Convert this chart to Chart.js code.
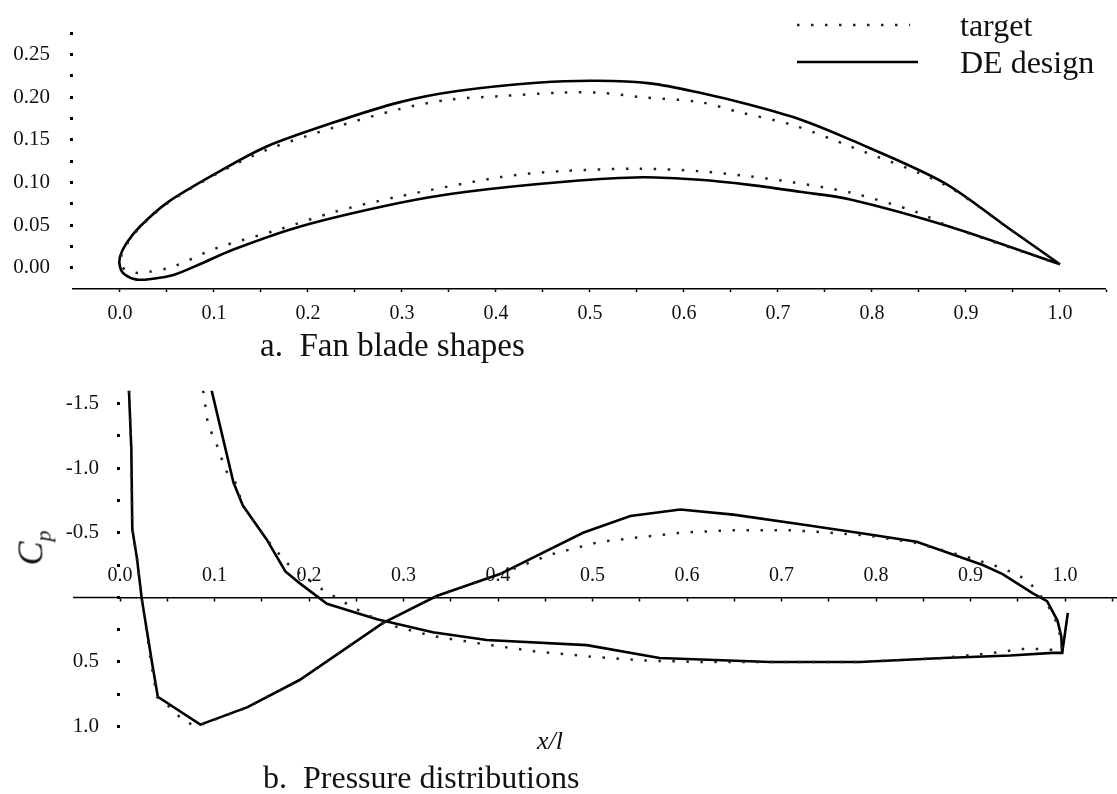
<!DOCTYPE html>
<html>
<head>
<meta charset="utf-8">
<title>Fan blade shapes and pressure distributions</title>
<script src="https://cdn.jsdelivr.net/npm/chart.js@4.4.1/dist/chart.umd.min.js"></script>
<style>
  body { margin: 0; background: #fff; width: 1117px; height: 794px; position: relative; overflow: hidden;
         font-family: 'Liberation Serif', 'DejaVu Serif', serif; color: #111; }
  canvas { position: absolute; left: 0; }
  #shapeChart { top: 0; }
  #cpChart { top: 360px; }
  .txt { position: absolute; white-space: pre; font-size: 32px; line-height: 40px; }
  #cpTitle { position: absolute; left: 37px; top: 548px; font-size: 36px; font-style: italic; line-height: 40px;
             transform: translate(-50%, -50%) rotate(-90deg); white-space: pre; }
  #cpTitle sub { font-size: 22px; }
  #xlTitle { position: absolute; left: 537px; top: 726px; font-size: 26px; font-style: italic; line-height: 30px; }
  #legendLines { position: absolute; left: 0; top: 0; }
</style>
</head>
<body>
<canvas id="shapeChart" width="1117" height="330"></canvas>
<canvas id="cpChart" width="1117" height="434"></canvas>

<svg id="legendLines" width="1117" height="80">
  <line x1="797" y1="25" x2="910" y2="25" stroke="#222" stroke-width="2.5" stroke-dasharray="2.5 11.5"/>
  <line x1="797" y1="62" x2="918" y2="62" stroke="#000" stroke-width="2.6"/>
</svg>
<div class="txt" style="left:960px; top:5px;">target</div>
<div class="txt" style="left:960px; top:42px;">DE design</div>
<div class="txt" style="left:260px; top:325px; font-size:33px;">a.  Fan blade shapes</div>
<div class="txt" style="left:263px; top:757px;">b.  Pressure distributions</div>
<div id="cpTitle">C<sub>p</sub></div>
<div id="xlTitle">x/l</div>

<script>
// ---- tick values / labels ----
const xTickVals = [0, 0.05, 0.1, 0.15, 0.2, 0.25, 0.3, 0.35, 0.4, 0.45, 0.5, 0.55, 0.6, 0.65, 0.7, 0.75, 0.8, 0.85, 0.9, 0.95, 1.0, 1.05];
const xTickLabels = ['0.0', '0.1', '0.2', '0.3', '0.4', '0.5', '0.6', '0.7', '0.8', '0.9', '1.0'];
const shapeTickVals = [0, 0.025, 0.05, 0.075, 0.1, 0.125, 0.15, 0.175, 0.2, 0.225, 0.25, 0.275];
const shapeTickLabels = ['0.00', '0.05', '0.10', '0.15', '0.20', '0.25'];
const cpTickVals = [-1.5, -1.25, -1.0, -0.75, -0.5, -0.25, 0, 0.25, 0.5, 0.75, 1.0];
const cpLabelVals = [-1.5, -1.0, -0.5, 0.5, 1.0];
const cpLabelText = ['-1.5', '-1.0', '-0.5', '0.5', '1.0'];

// ---- a. blade shapes (trailing edge -> upper surface -> leading edge -> lower surface) ----
const shapeDE_x = [1.000, 0.947, 0.876, 0.777, 0.723, 0.670, 0.617, 0.564, 0.507, 0.447, 0.359, 0.298, 0.227, 0.156, 0.103, 0.050, 0.021, 0.007, 0.000, 0.000, 0.005, 0.018, 0.035, 0.056, 0.085, 0.120, 0.191, 0.298, 0.369, 0.476, 0.556, 0.617, 0.670, 0.723, 0.777, 0.883, 1.000];
const shapeDE_y = [0.004, 0.045, 0.100, 0.150, 0.174, 0.191, 0.205, 0.216, 0.219, 0.217, 0.207, 0.194, 0.170, 0.142, 0.111, 0.076, 0.048, 0.029, 0.013, 0.001, -0.008, -0.014, -0.013, -0.009, 0.004, 0.021, 0.048, 0.076, 0.089, 0.101, 0.106, 0.103, 0.097, 0.089, 0.080, 0.048, 0.004];
const shapeTarget_x = [1.000, 0.947, 0.876, 0.777, 0.716, 0.660, 0.617, 0.553, 0.511, 0.468, 0.404, 0.351, 0.298, 0.227, 0.156, 0.103, 0.050, 0.021, 0.007, 0.001, 0.003, 0.016, 0.030, 0.056, 0.103, 0.170, 0.227, 0.295, 0.404, 0.468, 0.553, 0.617, 0.670, 0.716, 0.777, 0.848, 0.883, 1.000];
const shapeTarget_y = [0.004, 0.045, 0.098, 0.142, 0.167, 0.182, 0.194, 0.200, 0.205, 0.205, 0.201, 0.197, 0.186, 0.164, 0.138, 0.110, 0.075, 0.047, 0.027, 0.012, 0.000, -0.006, -0.005, 0.001, 0.023, 0.045, 0.065, 0.083, 0.106, 0.113, 0.116, 0.113, 0.107, 0.100, 0.088, 0.065, 0.048, 0.004];

// ---- b. pressure distributions (two branches each) ----
const cpDE1_x = [0.0095, 0.012, 0.013, 0.018, 0.023, 0.034, 0.040, 0.085, 0.135, 0.190, 0.278, 0.335, 0.402, 0.490, 0.540, 0.593, 0.649, 0.720, 0.790, 0.843, 0.913, 0.934, 0.966, 0.981, 0.992, 0.996, 0.997];
const cpDE1_y = [-1.60, -1.14, -0.53, -0.30, 0.01, 0.51, 0.77, 0.985, 0.85, 0.64, 0.20, -0.01, -0.18, -0.50, -0.63, -0.68, -0.64, -0.565, -0.49, -0.43, -0.25, -0.18, -0.03, 0.03, 0.18, 0.30, 0.43];
const cpDE2_x = [0.097, 0.120, 0.130, 0.155, 0.175, 0.190, 0.219, 0.272, 0.331, 0.388, 0.494, 0.571, 0.688, 0.783, 0.871, 0.942, 0.987, 0.997, 1.003];
const cpDE2_y = [-1.60, -0.89, -0.71, -0.45, -0.20, -0.11, 0.05, 0.17, 0.27, 0.33, 0.37, 0.47, 0.50, 0.50, 0.47, 0.45, 0.43, 0.43, 0.12];
const cpTarget1_x = [0.0095, 0.012, 0.013, 0.018, 0.023, 0.033, 0.039, 0.056, 0.066, 0.081, 0.135, 0.190, 0.278, 0.335, 0.402, 0.455, 0.508, 0.593, 0.649, 0.709, 0.751, 0.790, 0.843, 0.897, 0.924, 0.949, 0.963, 0.981, 0.993, 0.997];
const cpTarget1_y = [-1.60, -1.14, -0.53, -0.30, 0.01, 0.51, 0.77, 0.87, 0.95, 1.00, 0.85, 0.64, 0.20, -0.01, -0.18, -0.33, -0.43, -0.50, -0.52, -0.52, -0.50, -0.48, -0.42, -0.31, -0.25, -0.18, -0.11, 0.05, 0.22, 0.41];
const cpTarget2_x = [0.088, 0.093, 0.103, 0.112, 0.122, 0.130, 0.155, 0.169, 0.180, 0.212, 0.247, 0.261, 0.278, 0.331, 0.383, 0.441, 0.500, 0.558, 0.614, 0.688, 0.783, 0.871, 0.896, 0.924, 0.954, 0.970, 0.997];
const cpTarget2_y = [-1.60, -1.34, -1.17, -0.98, -0.89, -0.71, -0.45, -0.33, -0.24, -0.07, 0.08, 0.13, 0.20, 0.30, 0.36, 0.42, 0.46, 0.49, 0.50, 0.50, 0.50, 0.47, 0.45, 0.43, 0.40, 0.40, 0.41];

Chart.defaults.font.family = "'Liberation Serif', serif";
Chart.defaults.color = '#111';

function toPoints(xs, ys) {
    return xs.map((x, i) => ({ x: x, y: ys[i] }));
}

const solidStyle = { borderColor: '#000', borderWidth: 2.6, pointRadius: 0, showLine: true, fill: false };
const dottedStyle = { borderColor: '#222', borderWidth: 2.5, borderDash: [2.5, 11.5], pointRadius: 0, showLine: true, fill: false };

function xLabel(value) {
    const k = Math.round(value * 10);
    if (Math.abs(value * 10 - k) < 1e-6 && k >= 0 && k < xTickLabels.length) return xTickLabels[k];
    return '';
}

// top chart: blade shapes
new Chart(document.getElementById('shapeChart'), {
    type: 'scatter',
    data: {
        datasets: [
            Object.assign({ label: 'target', data: toPoints(shapeTarget_x, shapeTarget_y), tension: 0.3 }, dottedStyle),
            Object.assign({ label: 'DE design', data: toPoints(shapeDE_x, shapeDE_y), tension: 0.3 }, solidStyle)
        ]
    },
    options: {
        responsive: false,
        animation: false,
        layout: { padding: { top: 33, right: 12, left: 0, bottom: 0 } },
        plugins: { legend: { display: false }, tooltip: { enabled: false } },
        scales: {
            x: {
                type: 'linear', min: -0.05, max: 1.048,
                afterFit: (s) => { s.height = 41; },
                afterBuildTicks: (s) => { s.ticks = xTickVals.map(v => ({ value: v })); },
                grid: { drawOnChartArea: false, tickLength: 3, tickWidth: 1.5, tickColor: '#000' },
                border: { display: true, color: '#000', width: 1.5 },
                ticks: { font: { size: 20 }, padding: 10, autoSkip: false, maxRotation: 0, callback: xLabel }
            },
            y: {
                type: 'linear', min: -0.025, max: 0.275,
                afterFit: (s) => { s.width = 73; },
                afterBuildTicks: (s) => { s.ticks = shapeTickVals.map(v => ({ value: v })); },
                grid: { drawOnChartArea: false, tickLength: 3, tickWidth: 3, tickColor: '#000' },
                border: { display: false },
                ticks: {
                    font: { size: 21 }, padding: 20, autoSkip: false,
                    callback: (v) => {
                        const k = Math.round(v / 0.05);
                        return (Math.abs(v / 0.05 - k) < 1e-6 && k >= 0 && k < shapeTickLabels.length) ? shapeTickLabels[k] : '';
                    }
                }
            }
        }
    }
});

// small plugin: the x axis line runs a little to the left of the Cp axis
const axisStub = {
    id: 'axisStub',
    afterDraw(chart) {
        const { ctx, chartArea, scales } = chart;
        const y0 = Math.round(scales.y.getPixelForValue(0)) + 0.5;
        ctx.save();
        ctx.strokeStyle = '#000';
        ctx.lineWidth = 1.5;
        ctx.beginPath();
        ctx.moveTo(73, y0);
        ctx.lineTo(chartArea.left, y0);
        ctx.stroke();
        ctx.restore();
    }
};

// bottom chart: pressure distributions
new Chart(document.getElementById('cpChart'), {
    type: 'scatter',
    data: {
        datasets: [
            Object.assign({ label: 'target', data: toPoints(cpTarget1_x, cpTarget1_y) }, dottedStyle),
            Object.assign({ label: 'target', data: toPoints(cpTarget2_x, cpTarget2_y) }, dottedStyle),
            Object.assign({ label: 'DE design', data: toPoints(cpDE1_x, cpDE1_y) }, solidStyle),
            Object.assign({ label: 'DE design', data: toPoints(cpDE2_x, cpDE2_y) }, solidStyle)
        ]
    },
    options: {
        responsive: false,
        animation: false,
        layout: { padding: { top: 26, right: 0, left: 0, bottom: 61 } },
        plugins: { legend: { display: false }, tooltip: { enabled: false } },
        scales: {
            x: {
                type: 'linear', position: { y: 0 }, min: 0, max: 1.055,
                afterBuildTicks: (s) => { s.ticks = xTickVals.map(v => ({ value: v })); },
                grid: { drawOnChartArea: false, tickLength: 3, tickWidth: 1.5, tickColor: '#000' },
                border: { display: true, color: '#000', width: 1.5 },
                ticks: { font: { size: 20 }, padding: -37, autoSkip: false, maxRotation: 0, callback: xLabel }
            },
            y: {
                type: 'linear', min: -1.6, max: 1.05, reverse: true,
                afterFit: (s) => { s.width = 120; },
                afterBuildTicks: (s) => { s.ticks = cpTickVals.map(v => ({ value: v })); },
                grid: { drawOnChartArea: false, tickLength: 3, tickWidth: 3, tickColor: '#000' },
                border: { display: false },
                ticks: {
                    font: { size: 21 }, padding: 18, autoSkip: false,
                    callback: (v) => {
                        const i = cpLabelVals.findIndex(c => Math.abs(c - v) < 1e-6);
                        return i >= 0 ? cpLabelText[i] : '';
                    }
                }
            }
        }
    },
    plugins: [axisStub]
});
</script>
</body>
</html>
